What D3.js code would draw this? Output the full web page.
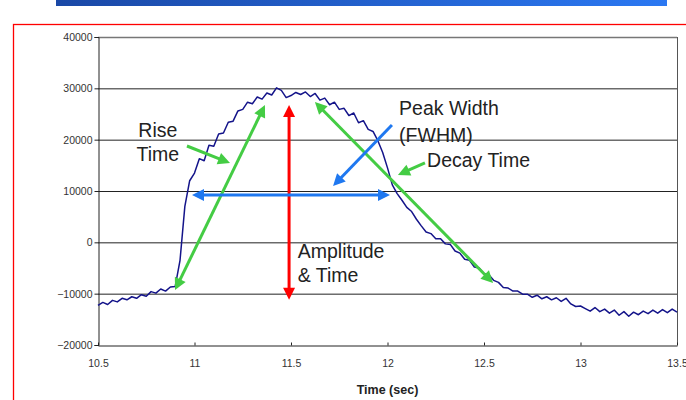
<!DOCTYPE html>
<html><head><meta charset="utf-8">
<script src="https://cdn.jsdelivr.net/npm/d3@7"></script>
<style>body{margin:0;background:#fff;}svg{display:block;font-family:"Liberation Sans",Arial,sans-serif;}</style>
</head><body>
<svg id="c" width="686" height="400"></svg>
<script>
const xTicks = [10.5, 11, 11.5, 12, 12.5, 13, 13.5];
const yTicks = [-20000, -10000, 0, 10000, 20000, 30000, 40000];
const times = [10.500,10.525,10.550,10.575,10.600,10.625,10.650,10.675,10.700,10.725,10.750,10.775,10.800,10.825,10.850,10.875,10.900,10.925,10.950,10.975,11.000,11.025,11.050,11.075,11.100,11.125,11.150,11.175,11.200,11.225,11.250,11.275,11.300,11.325,11.350,11.375,11.400,11.425,11.450,11.475,11.500,11.525,11.550,11.575,11.600,11.625,11.650,11.675,11.700,11.725,11.750,11.775,11.800,11.825,11.850,11.875,11.900,11.925,11.950,11.975,12.000,12.025,12.050,12.075,12.100,12.125,12.150,12.175,12.200,12.225,12.250,12.275,12.300,12.325,12.350,12.375,12.400,12.425,12.450,12.475,12.500,12.525,12.550,12.575,12.600,12.625,12.650,12.675,12.700,12.725,12.750,12.775,12.800,12.825,12.850,12.875,12.900,12.925,12.950,12.975,13.000,13.025,13.050,13.075,13.100,13.125,13.150,13.175,13.200,13.225,13.250,13.275,13.300,13.325,13.350,13.375,13.400,13.425,13.450,13.475,13.500];
const signal = [-12300,-11700,-12100,-11300,-11600,-10900,-11200,-10600,-10900,-10200,-10500,-9600,-9900,-9100,-9500,-8700,-8600,-3500,7000,12000,13500,16300,15900,18900,18700,21100,21300,23400,23600,25600,25900,27300,27000,28300,27900,29100,28700,30100,29600,28200,28600,29200,28800,29300,28400,29000,27700,28100,26800,27300,25900,26100,24700,25200,23300,23700,22000,21600,19800,17500,14500,11200,9500,8200,6800,6000,4500,3200,2000,1700,700,700,-300,-400,-1700,-2100,-3300,-3500,-4800,-5000,-6100,-6300,-7400,-7800,-8800,-8900,-9500,-9500,-10100,-10100,-10700,-10300,-11000,-10600,-11200,-10800,-11500,-10900,-12000,-12500,-12400,-12900,-13400,-12700,-13500,-13000,-13800,-13200,-14200,-13500,-14400,-13600,-14100,-13400,-13900,-13200,-13800,-13100,-13700,-13000,-13600];
// annotations: [x1,y1,x2,y2, color, heads]
const arrows = [
  [10.899,-9300,11.365,26750,"#44cc44",2],
  [11.624,27340,12.547,-7920,"#44cc44",2],
  [11.49,26750,11.49,-11200,"#ff0000",2],
  [10.987,9200,12.013,9200,"#1f78f0",2],
  [12.023,22860,11.718,10970,"#1f78f0",1],
  [10.961,18770,11.184,15460,"#44cc44",1],
  [12.194,15460,12.054,13120,"#44cc44",1]
];
const labels = [
  ["Rise",10.81,20500,"middle"],["Time",10.81,15850,"middle"],
  ["Peak Width",12.06,24800,"start"],["(FWHM)",12.06,19550,"start"],
  ["Decay Time",12.205,14700,"start"],
  ["Amplitude",11.535,-3050,"start"],["& Time",11.535,-7730,"start"]
];

const svg = d3.select("#c");
const defs = svg.append("defs");
const grad = defs.append("linearGradient").attr("id","bar");
grad.append("stop").attr("offset","0").attr("stop-color","#1a48a6");
grad.append("stop").attr("offset","1").attr("stop-color","#2b78f2");
svg.append("rect").attr("x",56).attr("y",0).attr("width",611).attr("height",6).attr("fill","url(#bar)");
svg.append("rect").attr("x",13.5).attr("y",24.5).attr("width",700).attr("height",400).attr("fill","none").attr("stroke","#ff0000").attr("stroke-width",1.3);

const x = d3.scaleLinear().domain([10.5,13.5]).range([98,677]);
const y = d3.scaleLinear().domain([-20000,40000]).range([345,37]);

// grid
svg.append("g").selectAll("line").data(yTicks.filter(d=>d>-20000)).join("line")
  .attr("x1",x(10.5)).attr("x2",x(13.5)).attr("y1",d=>y(d)+0.5).attr("y2",d=>y(d)+0.5)
  .attr("stroke",d=>d===40000?"#777":"#222").attr("stroke-width",d=>d===40000?1.5:1);
svg.append("line").attr("x1",x(13.5)+0.5).attr("x2",x(13.5)+0.5).attr("y1",y(40000)).attr("y2",y(-20000)).attr("stroke","#555");

const ya = svg.append("g").attr("transform",`translate(${x(10.5)+0.5},0)`)
  .call(d3.axisLeft(y).tickValues(yTicks).tickSize(4).tickFormat(d3.format("d")));
const xa = svg.append("g").attr("transform",`translate(0,${y(-20000)+0.5})`)
  .call(d3.axisBottom(x).tickValues(xTicks).tickSize(0).tickPadding(14).tickFormat(d=>String(d)));
xa.selectAll(".tick").append("line").attr("y1",-3).attr("y2",0).attr("stroke","#222");
[ya,xa].forEach(a=>{a.select(".domain").attr("stroke","#222");
  a.selectAll("text").attr("fill","#333").attr("font-size","10.5px").attr("font-family","Liberation Sans, Arial, sans-serif");
  a.selectAll(".tick line").attr("stroke","#222");});
ya.selectAll("text").attr("x",-6);
svg.append("text").attr("x",(x(10.5)+x(13.5))/2).attr("y",394).attr("text-anchor","middle")
  .attr("font-weight","bold").attr("font-size","12.5px").attr("fill","#222").text("Time (sec)");

// signal
const pts = times.map((t,i)=>[t,signal[i]]);
svg.append("path").datum(pts).attr("fill","none").attr("stroke","#14148a").attr("stroke-width",1.5)
  .attr("stroke-linejoin","round").attr("d",d3.line().x(d=>x(d[0])).y(d=>y(d[1])));

// arrows
function head(px,py,ang,color){
  const L=12,W=6;
  const bx=px-L*Math.cos(ang), by=py-L*Math.sin(ang);
  const nx=-Math.sin(ang), ny=Math.cos(ang);
  svg.append("path").attr("d",`M${px},${py}L${bx+nx*W},${by+ny*W}L${bx-nx*W},${by-ny*W}Z`).attr("fill",color);
}
arrows.forEach(a=>{
  const x1=x(a[0]),y1=y(a[1]),x2=x(a[2]),y2=y(a[3]);
  const ang=Math.atan2(y2-y1,x2-x1);
  const sh=8;
  const sx = a[5]===2 ? x1+sh*Math.cos(ang) : x1, sy = a[5]===2 ? y1+sh*Math.sin(ang) : y1;
  svg.append("line").attr("x1",sx).attr("y1",sy).attr("x2",x2-sh*Math.cos(ang)).attr("y2",y2-sh*Math.sin(ang))
    .attr("stroke",a[4]).attr("stroke-width",3);
  head(x2,y2,ang,a[4]);
  if(a[5]===2) head(x1,y1,ang+Math.PI,a[4]);
});
labels.forEach(l=>{
  svg.append("text").attr("x",x(l[1])).attr("y",y(l[2])).attr("text-anchor",l[3])
    .attr("font-size","19.5px").attr("fill","#222").text(l[0]);
});
</script>
</body></html>
